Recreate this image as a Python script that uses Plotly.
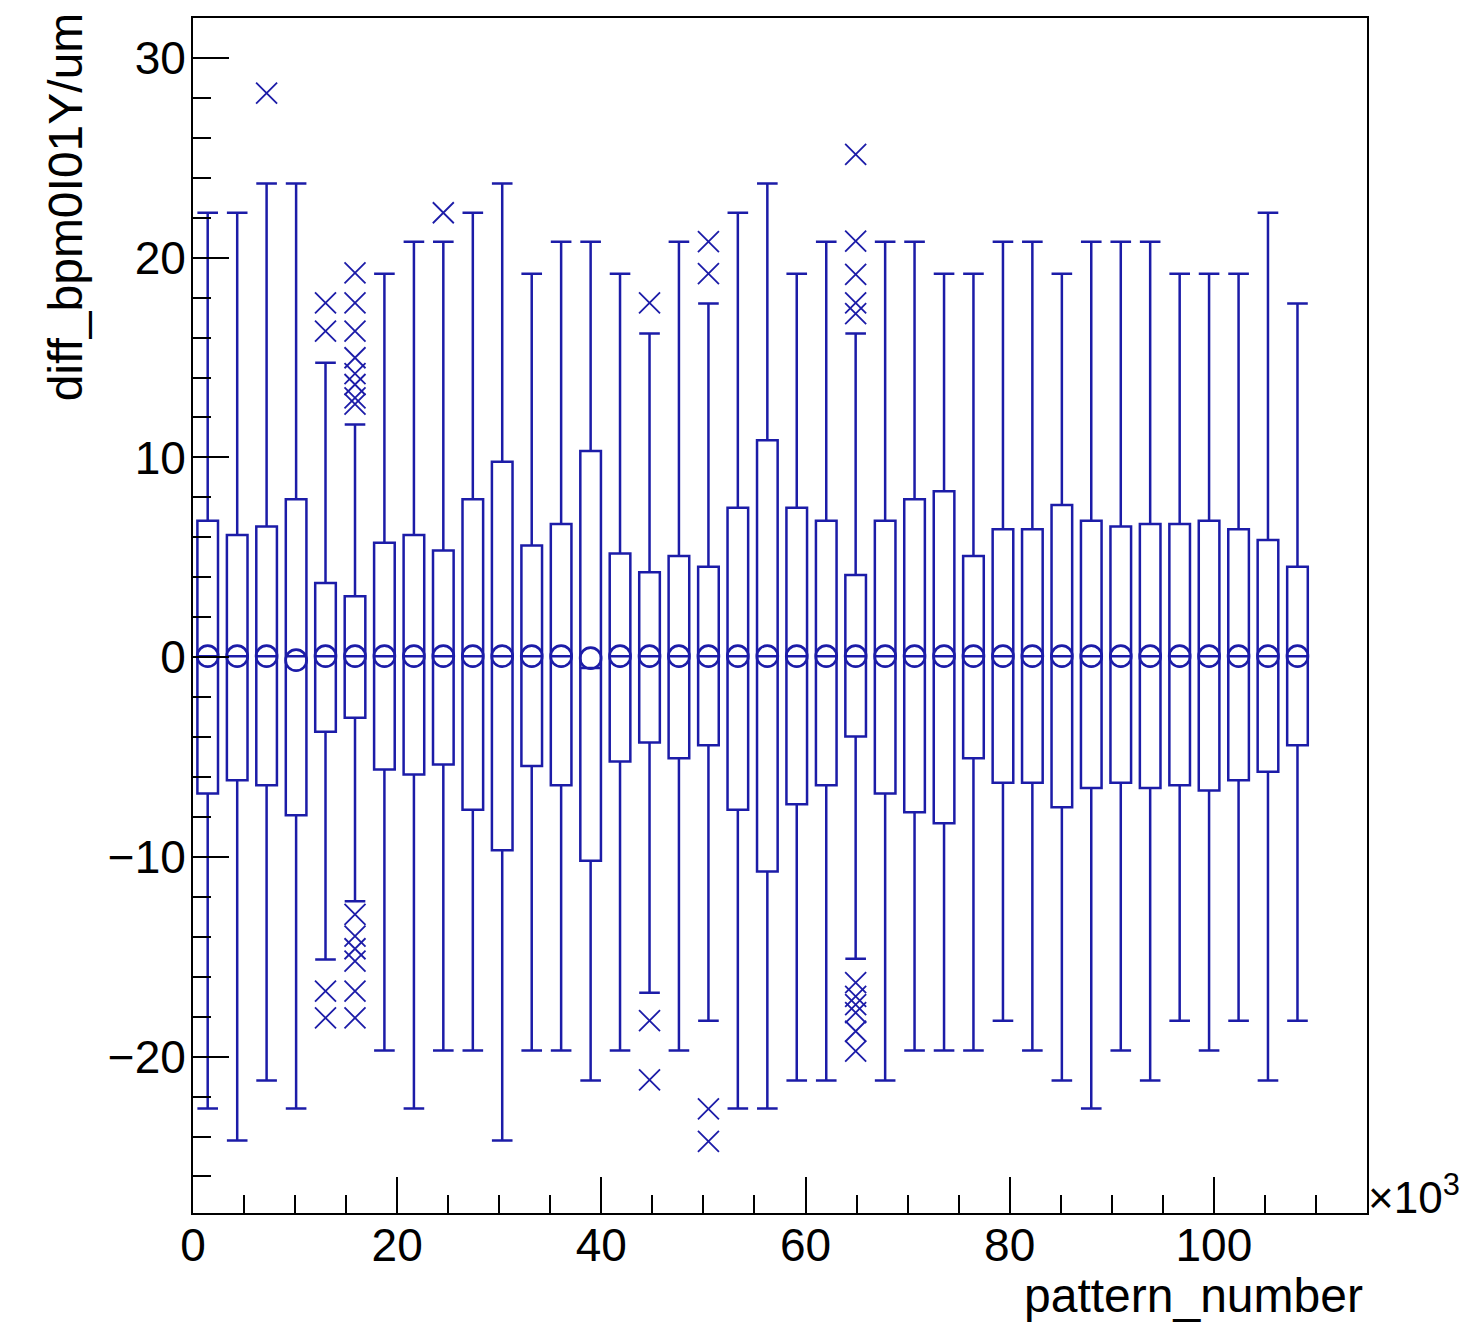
import plotly.graph_objects as go

# ---- data (x in units of 10^3 pattern numbers) ----
pattern_k = [1.44, 4.33, 7.21, 10.10, 12.98, 15.87, 18.75, 21.64, 24.52, 27.41,
             30.29, 33.18, 36.06, 38.95, 41.83, 44.72, 47.60, 50.49, 53.37, 56.26,
             59.14, 62.03, 64.91, 67.80, 70.68, 73.57, 76.45, 79.34, 82.22, 85.11,
             87.99, 90.88, 93.76, 96.65, 99.53, 102.42, 105.30, 108.19]

q3 = [6.83, 6.12, 6.54, 7.90, 3.71, 3.05, 5.73, 6.12, 5.34, 7.90,
      9.78, 5.59, 6.67, 10.32, 5.19, 4.25, 5.07, 4.53, 7.48, 10.86,
      7.48, 6.83, 4.11, 6.83, 7.90, 8.31, 5.07, 6.40, 6.40, 7.62,
      6.83, 6.54, 6.67, 6.67, 6.83, 6.40, 5.86, 4.52]

q1 = [-6.83, -6.16, -6.41, -7.91, -3.73, -3.04, -5.62, -5.87, -5.37, -7.64,
      -9.67, -5.45, -6.41, -10.19, -5.22, -4.27, -5.06, -4.41, -7.64, -10.73,
      -7.36, -6.41, -3.97, -6.83, -7.76, -8.32, -5.06, -6.29, -6.29, -7.51,
      -6.55, -6.29, -6.55, -6.41, -6.68, -6.16, -5.74, -4.41]

median = [0.05] * 13 + [-0.54] + [0.05] * 24

mean = [0.05, 0.05, 0.05, -0.15, 0.05, 0.05, 0.05, 0.05, 0.05, 0.05,
        0.05, 0.05, 0.05, -0.05, 0.05, 0.05, 0.05, 0.05, 0.05, 0.05,
        0.05, 0.05, 0.05, 0.05, 0.05, 0.05, 0.05, 0.05, 0.05, 0.05,
        0.05, 0.05, 0.05, 0.05, 0.05, 0.05, 0.05, 0.05]

upper = [22.25, 22.25, 23.72, 23.72, 14.74, 11.65, 19.2, 20.8, 20.8, 22.25,
         23.72, 19.2, 20.8, 20.8, 19.2, 16.2, 20.8, 17.7, 22.25, 23.72,
         19.2, 20.8, 16.2, 20.8, 20.8, 19.2, 19.2, 20.8, 20.8, 19.2,
         20.8, 20.8, 20.8, 19.2, 19.2, 19.2, 22.25, 17.7]

lower = [-22.6, -24.2, -21.2, -22.6, -15.14, -12.22, -19.7, -22.6, -19.7, -19.7,
         -24.2, -19.7, -19.7, -21.2, -19.7, -16.8, -19.7, -18.2, -22.6, -22.6,
         -21.2, -21.2, -15.1, -21.2, -19.7, -19.7, -19.7, -18.2, -19.7, -21.2,
         -22.6, -19.7, -21.2, -18.2, -19.7, -18.2, -21.2, -18.2]

outlier_x = [7.21,
             12.98, 12.98, 12.98, 12.98,
             15.87, 15.87, 15.87, 15.87, 15.87, 15.87, 15.87, 15.87,
             15.87, 15.87, 15.87, 15.87, 15.87, 15.87,
             24.52,
             44.72, 44.72, 44.72,
             50.49, 50.49, 50.49, 50.49,
             64.91, 64.91, 64.91, 64.91, 64.91,
             64.91, 64.91, 64.91, 64.91, 64.91, 64.91]
outlier_y = [28.24,
             17.74, 16.32, -16.72, -18.06,
             19.24, 17.74, 16.32, 14.99, 14.2, 13.65, 12.98, 12.67,
             -12.88, -13.97, -14.6, -15.22, -16.72, -18.06,
             22.25,
             17.74, -18.2, -21.17,
             20.8, 19.2, -22.62, -24.24,
             25.17, 20.83, 19.16, 17.74, 17.2,
             -16.3, -16.98, -17.4, -17.8, -18.73, -19.73]

x_ticks = [0, 20, 40, 60, 80, 100]
y_ticks = [-20, -10, 0, 10, 20, 30]

BLUE = "#1c1ca8"
FONT = "Liberation Sans, Arial, Helvetica, sans-serif"

fig = go.Figure()

fig.add_trace(go.Box(
    x=pattern_k, q1=q1, median=median, q3=q3,
    lowerfence=lower, upperfence=upper,
    width=2.02, whiskerwidth=1.0, boxpoints=False,
    fillcolor="rgba(0,0,0,0)",
    line=dict(color=BLUE, width=2.5),
    showlegend=False,
))

fig.add_trace(go.Scatter(
    x=pattern_k, y=mean, mode="markers",
    marker=dict(symbol="circle-open", size=21, color=BLUE,
                line=dict(color=BLUE, width=2.6)),
    showlegend=False,
))

fig.add_trace(go.Scatter(
    x=outlier_x, y=outlier_y, mode="markers",
    marker=dict(symbol="x-thin-open", size=21, color=BLUE,
                line=dict(color=BLUE, width=1.8)),
    showlegend=False,
))

axis_common = dict(
    showgrid=False, zeroline=False,
    showline=True, linecolor="black", linewidth=2, mirror=True,
    ticks="inside", ticklen=36, tickwidth=2, tickcolor="black",
    tickfont=dict(family=FONT, size=46, color="black"),
)

fig.update_xaxes(range=[0, 115.0], tickvals=x_ticks, ticklabelstandoff=-9,
                 minor=dict(ticks="inside", ticklen=18, tickwidth=2,
                            tickcolor="black", dtick=5, tick0=0, showgrid=False),
                 **axis_common)
fig.update_yaxes(range=[-27.83, 32.0], tickvals=y_ticks, ticklabelstandoff=-4,
                 minor=dict(ticks="inside", ticklen=18, tickwidth=2,
                            tickcolor="black", dtick=2, tick0=0, showgrid=False),
                 **axis_common)

# the page body adds an 8px margin; size the figure so the plot area lands in place
fig.update_layout(
    width=1463, height=1315,
    margin=dict(l=185, r=104, t=8, b=110),
    paper_bgcolor="white", plot_bgcolor="white",
    font=dict(family=FONT, color="black"),
    annotations=[
        dict(text="diff_bpm0I01Y/um", textangle=-90, xref="paper", yref="paper",
             x=-0.109, y=1.006, xanchor="center", yanchor="top", showarrow=False,
             font=dict(family=FONT, size=48, color="black")),
        dict(text="pattern_number", xref="paper", yref="paper",
             x=0.9985, y=-0.045, xanchor="right", yanchor="top", showarrow=False,
             font=dict(family=FONT, size=48, color="black")),
        dict(text="×10<sup>3</sup>", xref="paper", yref="paper",
             x=1.0, y=-0.0085, xanchor="left", yanchor="bottom", showarrow=False,
             borderpad=0, font=dict(family=FONT, size=44, color="black")),
    ],
)

fig.write_html("out.html")
